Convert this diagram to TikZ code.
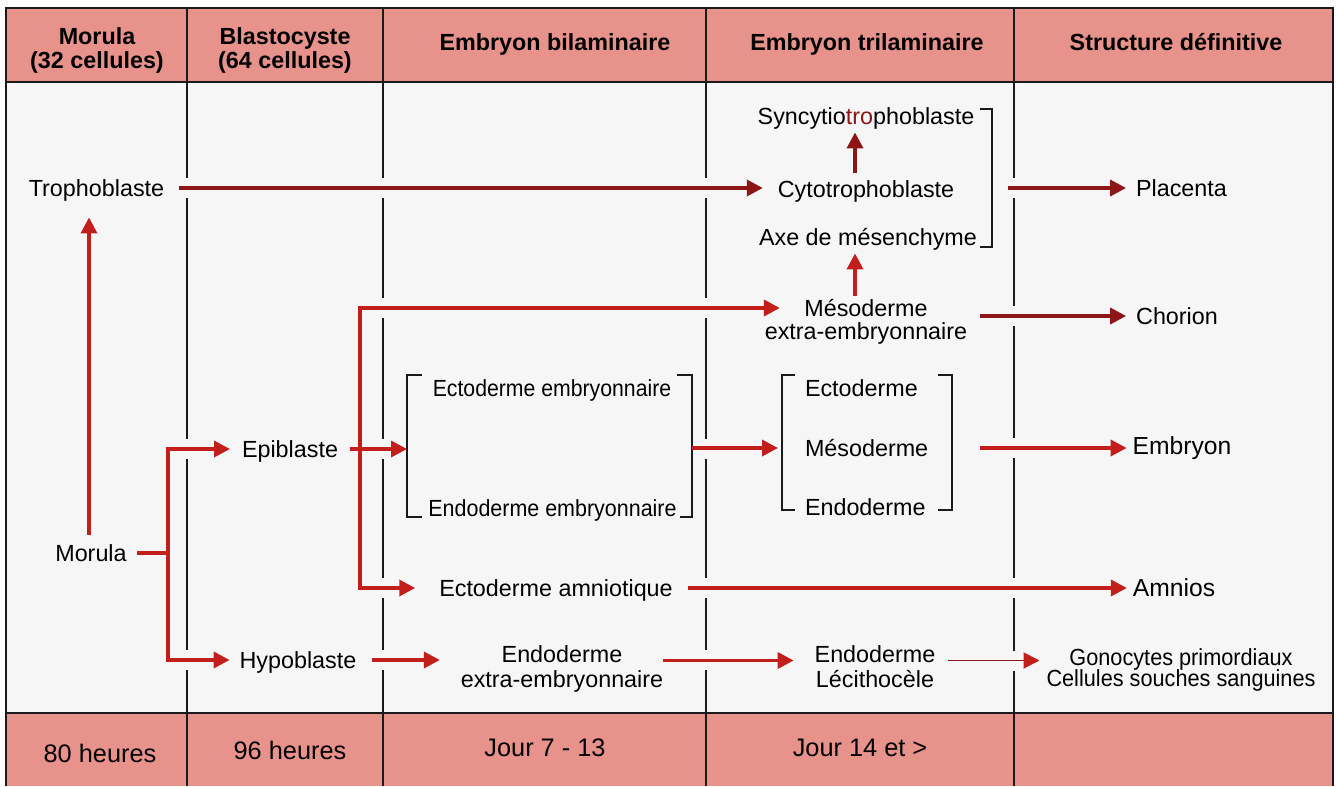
\documentclass[tikz,border=0pt]{standalone}
\usepackage{fontspec}
\setmainfont{Liberation Sans}
\usetikzlibrary{arrows.meta,calc,fit}
\definecolor{pinkband}{HTML}{E8928C}
\definecolor{bodybg}{HTML}{F6F6F6}
\definecolor{redA}{HTML}{C21E1C}
\definecolor{redB}{HTML}{8E1515}
\definecolor{lineK}{HTML}{1A1A1A}
\tikzset{
 txt/.style={inner sep=0pt, outer sep=0pt, font=\fontsize{17.5}{17.5}\selectfont, text height=12.6pt, text depth=0pt, align=center},
 bigtxt/.style={txt, font=\fontsize{18.5}{18.5}\selectfont, text height=13.3pt},
 hdr/.style={inner sep=0pt, outer sep=0pt, font=\bfseries\fontsize{17.5}{18}\selectfont, text height=12.6pt, text depth=0pt, align=center},
 ftr/.style={inner sep=0pt, outer sep=0pt, font=\fontsize{19}{23}\selectfont, text height=13.7pt, text depth=0pt},
 arr/.style={draw=redA, line width=2.6pt, -{Triangle[length=12pt,width=12pt]}},
 darr/.style={arr, draw=redB},
 thinarr/.style={draw=redB, line width=1.4pt, -{Triangle[length=12pt,width=12pt,color=redA]}},
 divider/.style={draw=lineK, line width=2.2pt},
 brk/.style={draw=lineK, line width=1.2pt},
 grp/.style={inner sep=0pt, outer sep=0pt},
}
\newcommand{\cond}[2][0.92]{\scalebox{#1}[1]{#2}}
\begin{document}
\lineskiplimit=-30pt
\begin{tikzpicture}[x=0.75pt,y=-0.75pt]
\useasboundingbox (0,0) rectangle (1336,786);
% background and bands
\fill[white] (0,0) rectangle (1336,786);
\fill[bodybg] (6,8) rectangle (1333,786);
\fill[pinkband] (6,8) rectangle (1333,82);
\fill[pinkband] (6,713) rectangle (1333,786);
\draw[lineK, line width=1.5pt] (6,786) -- (6,8) -- (1333,8) -- (1333,786);
\draw[lineK, line width=1.2pt] (6,82) -- (1333,82);
\draw[lineK, line width=1.2pt] (6,713) -- (1333,713);
\foreach \x in {187,383,706,1014} \draw[divider] (\x,8) -- (\x,786);
% gaps in dividers where arrows cross
\foreach \x/\y in {187/188,187/449,187/660,
                   383/188,383/308,383/449,383/588,383/660,
                   706/188,706/308,706/449,706/588,706/660,
                   1014/188,1014/316,1014/448,1014/588,1014/661}
  \fill[bodybg] ({\x-7},{\y-10}) rectangle ({\x+7},{\y+10});

% headers
\node[hdr, text height=30.6pt] (h1) at (97,48) {Morula\\(32 cellules)};
\node[hdr, text height=30.6pt] (h2) at (285,48) {Blastocyste\\(64 cellules)};
\node[hdr] (h3) at (555,42) {Embryon bilaminaire};
\node[hdr] (h4) at (867,42) {Embryon trilaminaire};
\node[hdr] (h5) at (1176,42) {Structure définitive};
% footers
\node[ftr] (f1) at (100,753) {80 heures};
\node[ftr] (f2) at (290,750) {96 heures};
\node[ftr] (f3) at (545,747) {Jour 7 - 13};
\node[ftr] (f4) at (860,747) {Jour 14 et >};

% body nodes
\node[txt] (tropho) at (96.5,188) {Trophoblaste};
\node[txt] (morula) at (91,553) {Morula};
\node[txt] (epi) at (290,449) {Epiblaste};
\node[txt] (hypo) at (298,660) {Hypoblaste};
\node[txt] (ectoEmb) at (552,388) {\cond[0.91]{Ectoderme embryonnaire}};
\node[txt] (endoEmb) at (552.5,508) {\cond[0.92]{Endoderme embryonnaire}};
\node[txt] (ectoAmn) at (556,588) {Ectoderme amniotique};
\node[txt, font=\fontsize{17.5}{18.75}\selectfont, text height=31.35pt] (endoExtra) at (562,666.5) {Endoderme\\extra-embryonnaire};
\node[txt] (syncy) at (866,116) {Syncytio\textcolor{redB}{tro}phoblaste};
\node[txt] (cyto) at (866,189) {Cytotrophoblaste};
\node[txt] (axe) at (868,237) {Axe de mésenchyme};
\node[txt, font=\fontsize{17.5}{17.25}\selectfont, text height=29.85pt] (mesoExtra) at (866,319.5) {Mésoderme\\extra-embryonnaire};
\node[txt, anchor=west] (ecto) at (805,388) {Ectoderme};
\node[txt, anchor=west] (meso) at (805,448) {Mésoderme};
\node[txt, anchor=west] (endo) at (805,507) {Endoderme};
\node[txt, font=\fontsize{17.5}{18.75}\selectfont, text height=31.35pt] (endoLec) at (875,666.5) {Endoderme\\Lécithocèle};
\node[txt] (placenta) at (1181.5,188) {Placenta};
\node[txt] (chorion) at (1177,316) {Chorion};
\node[bigtxt] (embryon) at (1182,446) {Embryon};
\node[bigtxt] (amnios) at (1174,588) {Amnios};
\node[txt, font=\fontsize{17.5}{15.75}\selectfont, text height=28.35pt] (gono) at (1181,667.5) {\cond[0.93]{Gonocytes primordiaux}\\\cond[0.93]{Cellules souches sanguines}};

% bracket groups
\coordinate (bnw) at (407,375); \coordinate (bse) at (692,517);
\node[grp, fit=(bnw)(bse)] (bil) {};
\coordinate (tnw) at (782,375); \coordinate (tse) at (952,510);
\node[grp, fit=(tnw)(tse)] (tri) {};
\coordinate (snw) at (740,109); \coordinate (sse) at (992,247);
\node[grp, fit=(snw)(sse)] (sgrp) {};
\draw[brk] ($(bil.north west)+(15,0)$) -- (bil.north west) -- (bil.south west) -- ++(15,0);
\draw[brk] ($(bil.north east)+(-15,0)$) -- (bil.north east) -- (bil.south east) -- ++(-12,0);
\draw[brk] ($(tri.north west)+(13,0)$) -- (tri.north west) -- (tri.south west) -- ++(13,0);
\draw[brk] ($(tri.north east)+(-14,0)$) -- (tri.north east) -- (tri.south east) -- ++(-14,0);
\draw[brk] ($(sgrp.north east)+(-12,0)$) -- (sgrp.north east) -- (sgrp.south east) -- ++(-12,0);

% connectors
\coordinate (mj) at (168,553);
\coordinate (ej) at (360,449);
\draw[arr] ($(morula.north)+(-2,-10)$) -- ($(morula.north |- tropho.south)+(-2,21)$);
\draw[arr] ($(morula.east)+(10,0)$) -- (mj) |- ($(epi.west)+(-12,0)$);
\draw[arr] (mj) |- ($(hypo.west)+(-10,0)$);
\draw[darr] ($(tropho.east)+(15,0)$) -- ($(tropho.east -| cyto.west)+(-15,0)$);
\draw[arr] ($(epi.east)+(12,0)$) -- (epi.east -| bil.west);
\draw[arr] (ej) |- ($(mesoExtra.west)+(15,-11.5)$);
\draw[arr] (ej) |- ($(ectoAmn.west)+(-24,0)$);
\draw[arr] ($(hypo.east)+(16,0)$) -- ($(hypo.east -| endoExtra.west)+(-21,0)$);
\draw[arr] (bil.east |- meso) -- ($(tri.west |- meso)+(-4,0)$);
\draw[arr] ($(ectoAmn.east)+(15,0)$) -- ($(amnios.west)+(-6,0)$);
\draw[arr] ($(endoExtra.east)+(0,-6)$) -- ($(endoLec.west)+(-21,-6)$);
\draw[darr] ($(cyto.north)+(-11,-8)$) -- ($(syncy.south)+(-11,8)$);
\draw[arr] ($(mesoExtra.north)+(-11,-4)$) -- ($(mesoExtra.north |- axe.south)+(-11,8)$);
\draw[darr] ($(sgrp.east |- placenta)+(16,0)$) -- ($(placenta.west)+(-10,0)$);
\draw[darr] ($(mesoExtra.east |- chorion)+(13,0)$) -- ($(chorion.west)+(-10,0)$);
\draw[arr] ($(tri.east |- meso)+(28,0)$) -- ($(embryon.west |- meso)+(-6,0)$);
\draw[thinarr] ($(endoLec.east)+(13,-6)$) -- ($(endoLec.east -| gono.west)+(-7,-6)$);
\end{tikzpicture}
\end{document}
